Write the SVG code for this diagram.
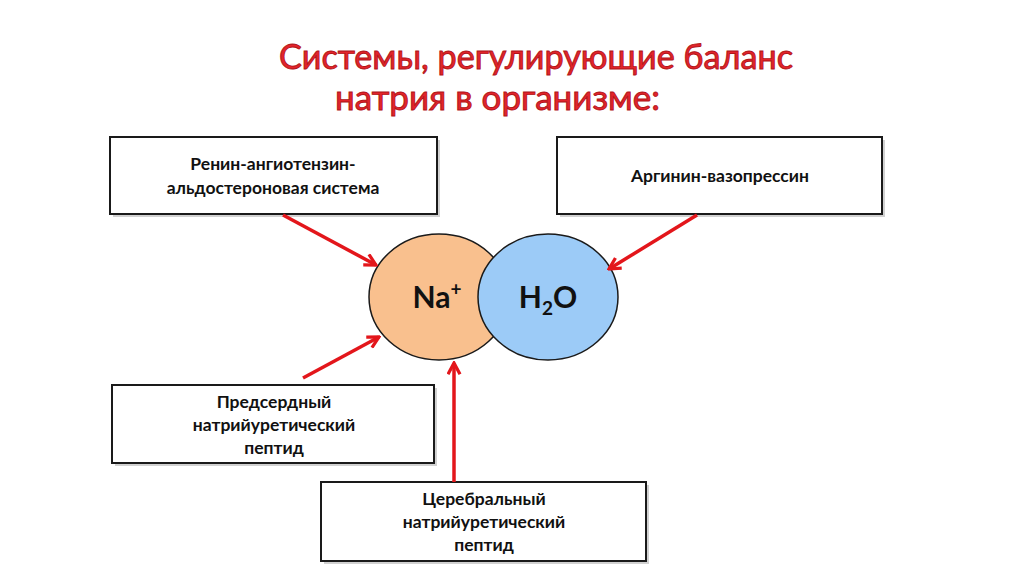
<svg xmlns="http://www.w3.org/2000/svg" width="1024" height="574" viewBox="0 0 1024 574">
<style>
.box{fill:#fff;stroke:#1a1a1a;stroke-width:2}
.sh{fill:#000;opacity:0.18}
.lbl{font-family:Lato,"Open Sans","Noto Sans",sans-serif;font-weight:bold;font-size:17.5px;fill:#111;text-anchor:middle}
.ttl{font-family:Lato,"Open Sans","Noto Sans",sans-serif;font-size:34px;fill:#e3242b;stroke:#b01418;stroke-width:0.9}
.big{font-family:Lato,"Open Sans","Noto Sans",sans-serif;font-weight:bold;font-size:30px;fill:#111;text-anchor:middle}
.arr{stroke:#e3161b;stroke-width:3.5;fill:none;marker-end:url(#ah)}
</style>
<defs>
<marker id="ah" viewBox="0 0 12 12" refX="10.5" refY="6" markerWidth="15" markerHeight="15" markerUnits="userSpaceOnUse" orient="auto">
<path d="M1.5,1.2 L10.5,6 L1.5,10.8" fill="none" stroke="#e3161b" stroke-width="2.6"/>
</marker>
</defs>
<rect width="1024" height="574" fill="#fff"/>
<g id="title">
<text class="ttl" x="279" y="69" textLength="514" lengthAdjust="spacingAndGlyphs">Системы, регулирующие баланс</text>
<text class="ttl" x="335" y="110" textLength="325" lengthAdjust="spacingAndGlyphs">натрия в организме:</text>
</g>
<g id="na">
<ellipse cx="439" cy="297" rx="70" ry="63" fill="#f9c08e" stroke="#1a1a1a" stroke-width="1.5"/>
</g>
<g id="h2o">
<ellipse cx="548" cy="297" rx="70" ry="63" fill="#9ccbf7" stroke="#1a1a1a" stroke-width="1.5"/>
</g>
<g id="na-label"><text class="big" x="437" y="308">Na<tspan font-size="19" dy="-12">+</tspan></text></g>
<g id="h2o-label"><text class="big" x="548" y="308">H<tspan font-size="19" dy="7">2</tspan><tspan dy="-7">O</tspan></text></g>
<g id="raas">
<rect class="sh" x="113" y="140" width="327" height="77"/>
<rect class="box" x="110" y="137" width="327" height="77"/>
<text class="lbl" x="273" y="170">Ренин-ангиотензин-</text>
<text class="lbl" x="273" y="194">альдостероновая система</text>
</g>
<g id="avp">
<rect class="sh" x="560" y="140" width="325" height="77"/>
<rect class="box" x="557" y="137" width="325" height="77"/>
<text class="lbl" x="720" y="182">Аргинин-вазопрессин</text>
</g>
<g id="anp">
<rect class="sh" x="115" y="388" width="322" height="78"/>
<rect class="box" x="112" y="385" width="322" height="78"/>
<text class="lbl" x="274" y="408">Предсердный</text>
<text class="lbl" x="274" y="431">натрийуретический</text>
<text class="lbl" x="274" y="454">пептид</text>
</g>
<g id="bnp">
<rect class="sh" x="324" y="485" width="325" height="79"/>
<rect class="box" x="321" y="482" width="325" height="79"/>
<text class="lbl" x="484" y="505">Церебральный</text>
<text class="lbl" x="484" y="528">натрийуретический</text>
<text class="lbl" x="484" y="551">пептид</text>
</g>
<g id="connectors">
<line class="arr" x1="283" y1="215" x2="376" y2="265"/>
<line class="arr" x1="697" y1="215" x2="609" y2="269"/>
<line class="arr" x1="303" y1="378" x2="379" y2="337"/>
<line class="arr" x1="454" y1="482" x2="454" y2="363"/>
</g>
</svg>
